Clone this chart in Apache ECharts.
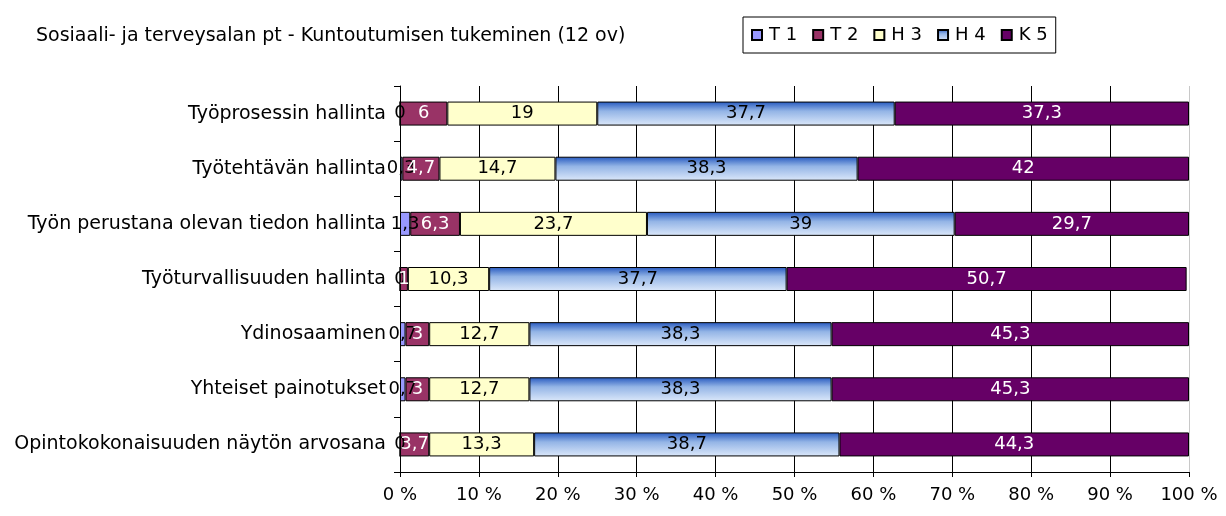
<!DOCTYPE html>
<html>
<head>
<meta charset="utf-8">
<script src="https://cdn.jsdelivr.net/npm/echarts@6/dist/echarts.min.js"></script>
<style>
    html, body { margin: 0; padding: 0; background: #fff; }
    #chart { width: 1226px; height: 516px; }
</style>
</head>
<body>
<div id="chart"></div>
<script>
    // luokat ylhäältä alas
    var categories = [
        'Työprosessin hallinta',
        'Työtehtävän hallinta',
        'Työn perustana olevan tiedon hallinta',
        'Työturvallisuuden hallinta',
        'Ydinosaaminen',
        'Yhteiset painotukset',
        'Opintokokonaisuuden näytön arvosana'
    ];
    var t1 = [0, 0.3, 1.3, 0, 0.7, 0.7, 0];
    var t2 = [6, 4.7, 6.3, 1, 3, 3, 3.7];
    var h3 = [19, 14.7, 23.7, 10.3, 12.7, 12.7, 13.3];
    var h4 = [37.7, 38.3, 39, 37.7, 38.3, 38.3, 38.7];
    var k5 = [37.3, 42, 29.7, 50.7, 45.3, 45.3, 44.3];
    var xTicks = [0, 10, 20, 30, 40, 50, 60, 70, 80, 90, 100];

    var font = 'DejaVu Sans, Arial, sans-serif';

    function makeSeries(name, data, color, labelColor) {
        return {
            name: name,
            type: 'bar',
            stack: 'all',
            barWidth: 24,
            data: data,
            itemStyle: {color: color, borderColor: '#000', borderWidth: 1},
            label: {
                show: true,
                position: 'inside',
                color: labelColor,
                fontFamily: font,
                fontSize: 18,
                formatter: function (p) {
                    return String(p.value).replace('.', ',');
                }
            }
        };
    }

    var h4Color = new echarts.graphic.LinearGradient(0, 0, 0, 1, [
        {offset: 0, color: '#2558bf'},
        {offset: 0.4, color: '#94b5e6'},
        {offset: 1, color: '#dce8fa'}
    ]);

    // 100 %:n viiva vaaleampi
    var gridColors = ['#000', '#000', '#000', '#000', '#000', '#000', '#000', '#000', '#000', '#000', '#c8c8c8'];

    var chart = echarts.init(document.getElementById('chart'));
    chart.setOption({
        animation: false,
        textStyle: {fontFamily: font},
        title: {
            text: 'Sosiaali- ja terveysalan pt - Kuntoutumisen tukeminen (12 ov)',
            left: 31,
            top: 22,
            textStyle: {fontSize: 19, fontWeight: 'normal', color: '#000', fontFamily: font}
        },
        legend: {
            left: 743,
            top: 17,
            padding: [9, 8, 9, 8],
            borderColor: '#000',
            borderWidth: 1,
            itemWidth: 10,
            itemHeight: 10,
            itemGap: 15,
            icon: 'rect',
            textStyle: {fontSize: 18, color: '#000', fontFamily: font, padding: [0, 0, 0, 2]},
            data: ['T 1', 'T 2', 'H 3', 'H 4', 'K 5']
        },
        grid: {left: 400, right: 37, top: 86, bottom: 44, containLabel: false},
        xAxis: {
            type: 'value',
            min: 0,
            max: 100,
            interval: 10,
            axisLine: {show: true, lineStyle: {color: '#000'}},
            axisTick: {show: true, length: 5, lineStyle: {color: '#000'}},
            splitLine: {show: true, lineStyle: {color: gridColors}},
            axisLabel: {
                color: '#000',
                fontSize: 18,
                margin: 14,
                fontFamily: font,
                formatter: function (v) {
                    return xTicks.indexOf(v) >= 0 ? v + ' %' : '';
                }
            }
        },
        yAxis: {
            type: 'category',
            inverse: true,
            data: categories,
            axisLine: {show: true, lineStyle: {color: '#000'}},
            axisTick: {show: true, length: 6, lineStyle: {color: '#000'}},
            axisLabel: {color: '#000', fontSize: 19, margin: 14, fontFamily: font}
        },
        series: [
            makeSeries('T 1', t1, '#9999ff', '#000'),
            makeSeries('T 2', t2, '#993366', '#fff'),
            makeSeries('H 3', h3, '#ffffcc', '#000'),
            makeSeries('H 4', h4, h4Color, '#000'),
            makeSeries('K 5', k5, '#660066', '#fff')
        ]
    });
</script>
</body>
</html>
